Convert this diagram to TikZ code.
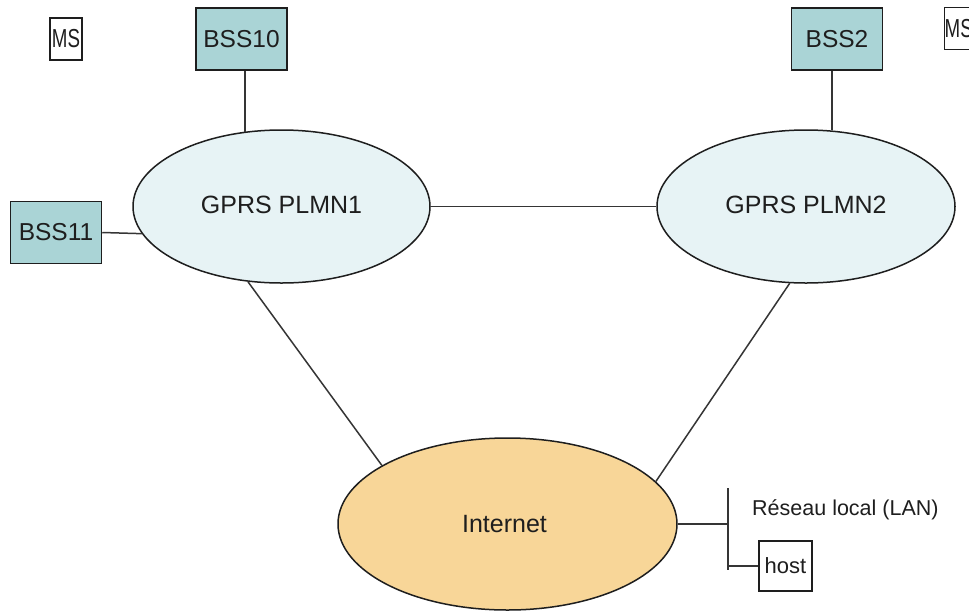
\documentclass[tikz,border=0pt]{standalone}
\usepackage{fontspec}
\setmainfont{Liberation Sans}
\usetikzlibrary{shapes.geometric}
\definecolor{bssfill}{RGB}{170,212,214}
\definecolor{plmnfill}{RGB}{231,243,245}
\definecolor{netfill}{RGB}{248,214,152}
\definecolor{ink}{RGB}{30,30,30}
\tikzset{
  bssbox/.style={draw=ink, line width=1.5pt, fill=bssfill, minimum width=91pt, minimum height=62pt, inner sep=0pt, text=ink, font=\fontsize{24.5}{28}\selectfont},
  msbox/.style={draw=ink, line width=1.4pt, fill=white, minimum width=32pt, minimum height=42pt, inner sep=0pt, text=ink, font=\fontsize{26}{28}\selectfont},
  hostbox/.style={draw=ink, line width=1.4pt, fill=white, minimum width=53pt, minimum height=50pt, inner sep=0pt, text=ink, font=\fontsize{22}{26}\selectfont},
  cloud/.style={ellipse, draw=ink, line width=1.5pt, inner sep=0pt, text=ink, font=\fontsize{25}{28}\selectfont},
  link/.style={draw=ink!90, line width=1.5pt},
  lbl/.style={text=ink, font=\fontsize{21.5}{25}\selectfont, inner sep=0pt}
}
\begin{document}
\begin{tikzpicture}[x=1pt,y=-1pt]
\useasboundingbox (0,0) rectangle (969,611);
\clip (0,0) rectangle (969,611);
\fill[white] (0,0) rectangle (969,611);
% nodes
\node[msbox] (msl) at (66,39) {\scalebox{0.72}[1]{MS}};
\node[msbox, anchor=north west] (msr) at (944,7) {\hspace*{-4pt}\scalebox{0.72}[1]{MS}};
\node[bssbox] (b10) at (241.5,39) {BSS10};
\node[bssbox] (b2) at (837,39) {BSS2};
\node[bssbox] (b11) at (56,232.5) {BSS11};
\node[cloud, fill=plmnfill, minimum width=297pt, minimum height=153pt] (p1) at (281.5,206.5) {\raisebox{3pt}{GPRS PLMN1}};
\node[cloud, fill=plmnfill, minimum width=298pt, minimum height=153pt] (p2) at (806,206.5) {\raisebox{3pt}{GPRS PLMN2}};
\node[cloud, fill=netfill, minimum width=339pt, minimum height=172pt] (inet) at (507.5,524) {\hspace*{-6pt}Internet};
\node[hostbox] (host) at (785.5,566) {host};
\node[lbl, anchor=west] (lan) at (752,510) {Réseau local (LAN)};
\coordinate (lantop) at (728,488);
\coordinate (lanbot) at (728,570);
% connectors
\draw[link] (p1.116 |- b10.south) -- (p1.116);
\draw[link] (p2.71 |- b2.south) -- (p2.71);
\draw[link] (b11.east) -- (p1.191);
\draw[link] (p1.east) -- (p2.west);
\draw[link] (p1.246) -- (inet.155);
\draw[link] (p2.258) -- (inet.16);
\draw[link] (lantop) -- (lanbot);
\draw[link] (inet.east) -- (inet.east -| lantop);
\draw[link] (host.west -| lantop) -- (host.west);
\end{tikzpicture}
\end{document}
